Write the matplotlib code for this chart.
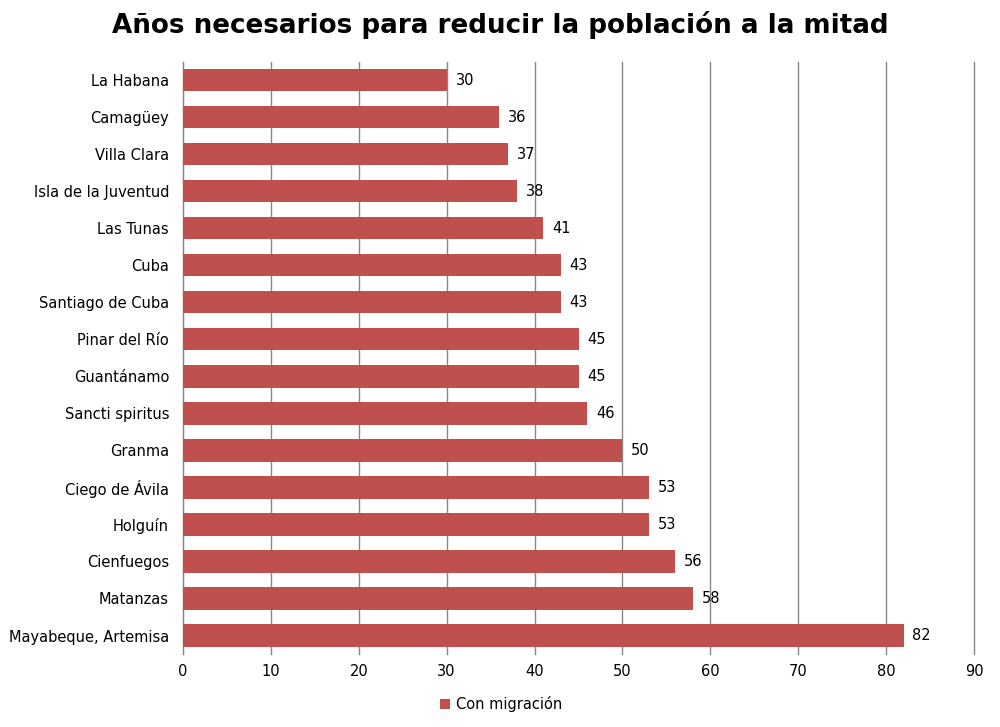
import matplotlib
matplotlib.use('Agg')
import matplotlib.pyplot as plt

# Data
provincias = ['La Habana', 'Camagüey', 'Villa Clara', 'Isla de la Juventud', 'Las Tunas',
              'Cuba', 'Santiago de Cuba', 'Pinar del Río', 'Guantánamo', 'Sancti spiritus',
              'Granma', 'Ciego de Ávila', 'Holguín', 'Cienfuegos', 'Matanzas',
              'Mayabeque, Artemisa']
anios = [30, 36, 37, 38, 41, 43, 43, 45, 45, 46, 50, 53, 53, 56, 58, 82]
xticks = [0, 10, 20, 30, 40, 50, 60, 70, 80, 90]

plt.rcParams['font.family'] = ['DejaVu Sans']

fig = plt.figure(figsize=(10, 7.27), dpi=100)
ax = fig.add_axes([0.183, 0.1004, 0.791, 0.8146])

pos = list(range(len(provincias)))
bars = ax.barh(pos, anios, height=0.6, color='#C0504D', label='Con migración', zorder=3)

for y, v in zip(pos, anios):
    ax.text(v + 1, y, str(v), va='center', ha='left', fontsize=10.5, color='black')

ax.set_yticks(pos)
ax.set_yticklabels(provincias, fontsize=10.5)
ax.set_ylim(15.5, -0.5)
ax.set_xlim(0, 90)
ax.set_xticks(xticks)
ax.tick_params(axis='x', labelsize=10.5, length=0, pad=7)
ax.tick_params(axis='y', length=0, pad=10)
ax.xaxis.grid(True, color='#868686', linewidth=1, zorder=0)
for gl in ax.get_xgridlines():
    gl.set_clip_on(False)

for s in ['top', 'right', 'bottom']:
    ax.spines[s].set_visible(False)
ax.spines['left'].set_color('#868686')

fig.suptitle('Años necesarios para reducir la población a la mitad',
             fontsize=18.8, fontweight='bold', y=0.985)

fig.legend(handles=[bars], labels=['Con migración'], loc='center',
           bbox_to_anchor=(0.501, 0.032), frameon=False, fontsize=10.5,
           handlelength=0.7, handleheight=0.7, handletextpad=0.35)

fig.savefig('out.png', dpi=100)
